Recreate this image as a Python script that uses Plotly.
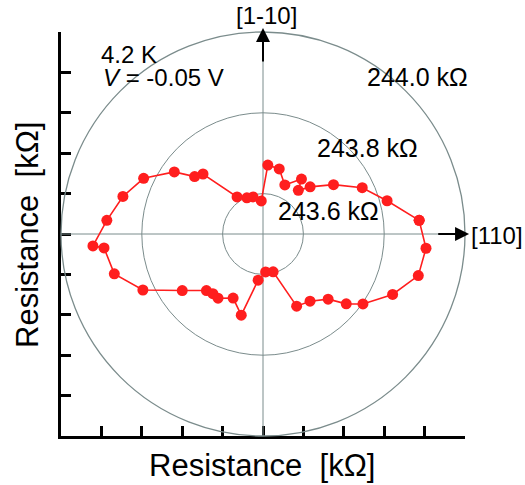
import plotly.graph_objects as go

# Data: angle (deg, from [110] counterclockwise) and resistance (kOhm)
angle_deg = [5, 15, 25, 35, 45, 51, 55, 66, 76, 86,
             93, 105, 114, 125, 135, 140, 145, 155, 165, 175,
             184, 185, 195, 205, 215, 225, 230, 235, 245, 255,
             264, 274, 285, 295, 305, 315, 320, 325, 335, 345, 355]
resistance_kohm = [243.888, 243.818, 243.771, 243.713, 243.665, 243.639, 243.666, 243.633, 243.666, 243.671,
                   243.582, 243.595, 243.598, 243.612, 243.710, 243.721, 243.768, 243.826, 243.859, 243.888,
                   243.922, 243.895, 243.881, 243.828, 243.744, 243.698, 243.693, 243.694, 243.675, 243.708,
                   243.615, 243.594, 243.597, 243.697, 243.703, 243.728, 243.769, 243.802, 243.854, 243.898, 243.905]

r_min, r_max = 243.5, 244.0
ring_values = [243.6, 243.8, 244.0]
ring_labels = ["243.6 kΩ", "243.8 kΩ", "244.0 kΩ"]
frame_ticks = [-0.5, -0.4, -0.3, -0.2, -0.1, 0.0, 0.1, 0.2, 0.3, 0.4, 0.5]

FONT = "Liberation Sans, Arial, Helvetica, sans-serif"
GRID = "#7b8c8c"
RED = "#ff1e1e"

L, R, T, B = 61, 60, 32, 49
W, H = 525, 485
PW, PH = W - L - R, H - T - B

fig = go.Figure()

# invisible trace to make cartesian frame render
fig.add_trace(go.Scatter(x=[], y=[], showlegend=False, hoverinfo="skip"))

fig.add_trace(go.Scatterpolar(
    theta=angle_deg + angle_deg[:1],
    r=resistance_kohm + resistance_kohm[:1],
    mode="lines+markers",
    line=dict(color=RED, width=1.6),
    marker=dict(color=RED, size=11),
    showlegend=False,
    cliponaxis=False,
))

fig.update_layout(
    width=W, height=H,
    margin=dict(l=L, r=R, t=T, b=B),
    paper_bgcolor="white", plot_bgcolor="white",
    font=dict(family=FONT, color="black", size=22),
    xaxis=dict(range=[-0.5, 0.5], tickvals=frame_ticks, showticklabels=False,
               ticks="inside", ticklen=10, tickwidth=2.5, tickcolor="black",
               showline=True, linewidth=2.5, linecolor="black",
               showgrid=False, zeroline=False, fixedrange=True),
    yaxis=dict(range=[-0.5, 0.5], tickvals=frame_ticks, showticklabels=False,
               ticks="inside", ticklen=10, tickwidth=2.5, tickcolor="black",
               showline=True, linewidth=2.5, linecolor="black",
               showgrid=False, zeroline=False, fixedrange=True),
    polar=dict(
        domain=dict(x=[0, 1], y=[0, 1]),
        bgcolor="rgba(0,0,0,0)",
        radialaxis=dict(range=[r_min, r_max], tickvals=ring_values, showticklabels=False,
                        ticks="", showline=False, gridcolor=GRID, gridwidth=1.3),
        angularaxis=dict(tickvals=[0, 90, 180, 270], showticklabels=False, ticks="",
                         rotation=0, direction="counterclockwise",
                         showline=True, linecolor=GRID, linewidth=1.3,
                         gridcolor=GRID, gridwidth=1.3),
    ),
)

def px2x(px):
    return (px - L) / PW

def px2y(py):
    return (H - B - py) / PH

anns = []
# arrows (data coords of the frame)
anns.append(dict(x=0, y=0.51, ax=0, ay=0.423, xref="x", yref="y", axref="x", ayref="y",
                 showarrow=True, arrowhead=2, arrowsize=1.4, arrowwidth=2, arrowcolor="black", text=""))
anns.append(dict(x=0.51, y=0, ax=0.43, ay=0, xref="x", yref="y", axref="x", ayref="y",
                 showarrow=True, arrowhead=2, arrowsize=1.4, arrowwidth=2, arrowcolor="black", text=""))

def txt(text, px, py, xanchor="center", size=25, angle=0):
    anns.append(dict(x=px2x(px), y=px2y(py), xref="paper", yref="paper", text=text, showarrow=False,
                     xanchor=xanchor, yanchor="middle", textangle=angle,
                     font=dict(size=size, family=FONT, color="black")))

txt("[1-10]", 266, 16, size=24)
txt("[110]", 469, 235, xanchor="left", size=24)
txt("4.2 K", 99, 54, xanchor="left", size=24)
txt("<i>V</i> = -0.05 V", 101, 77, xanchor="left", size=24)
txt(ring_labels[2], 365, 77, xanchor="left")
txt(ring_labels[1], 315, 148, xanchor="left")
txt(ring_labels[0], 276, 211, xanchor="left")
txt("Resistance\u00a0 [kΩ]", 262, 465, size=31)
txt("Resistance\u00a0 [kΩ]", 27, 235, size=31, angle=-90)

fig.update_layout(annotations=anns)

fig.write_html("out.html", config={"displayModeBar": False},
               post_script="document.body.style.margin='0';document.body.style.padding='0';")
